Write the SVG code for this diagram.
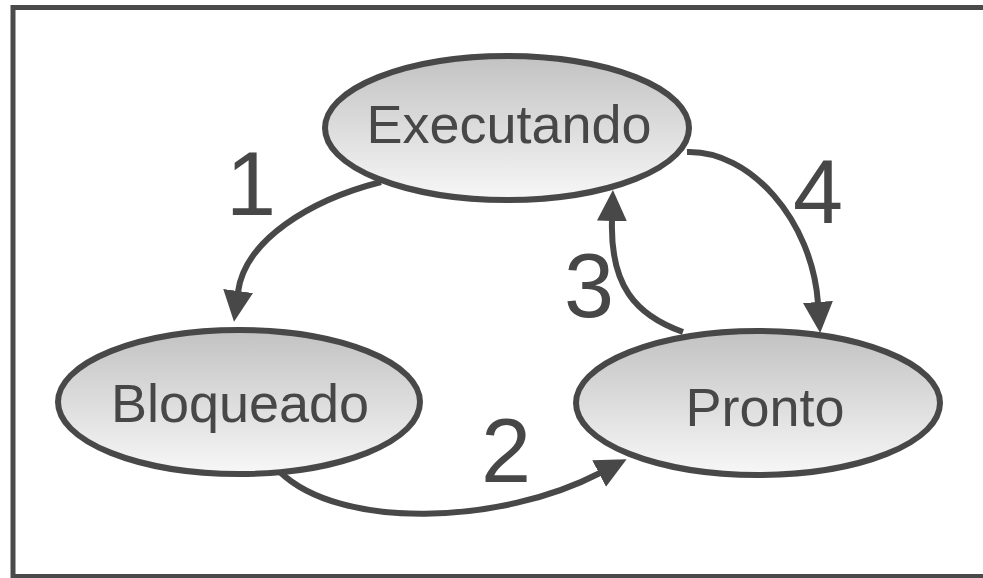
<svg xmlns="http://www.w3.org/2000/svg" width="983" height="578" viewBox="0 0 983 578">
<style>
.node{stroke:#484848;stroke-width:6;fill:url(#g)}
.lbl{font-family:"Liberation Sans",Arial,sans-serif;font-size:54px;fill:#474747;text-anchor:middle}
.num{font-family:"Liberation Sans",Arial,sans-serif;font-size:90px;fill:#474747;text-anchor:middle}
.edge{fill:none;stroke:#484848;stroke-width:6;marker-end:url(#ah)}
</style>
<defs>
<linearGradient id="g" x1="0" y1="0" x2="0" y2="1">
<stop offset="0" stop-color="#c2c2c2"/>
<stop offset="1" stop-color="#f7f7f7"/>
</linearGradient>
<marker id="ah" markerUnits="userSpaceOnUse" markerWidth="32" markerHeight="32" refX="1" refY="15" orient="auto" viewBox="0 0 32 30">
<path d="M0,0 L31,15 L0,30 z" fill="#484848"/>
</marker>
</defs>
<rect x="13" y="7.5" width="1000" height="569" fill="#fff" stroke="#4a4a4a" stroke-width="5"/>
<g id="connectors">
<path class="edge" d="M381,182 C310,200 245,240 238,292"/>
<path class="edge" d="M280,472 C340,530 500,525 600,473"/>
<path class="edge" d="M683,332 C635,315 610,285 612,220"/>
<path class="edge" d="M687,152 C750,150 812,220 818,303"/>
<text class="num" x="251" y="215">1</text>
<text class="num" x="506" y="482">2</text>
<text class="num" x="589" y="317">3</text>
<text class="num" x="818" y="223">4</text>
</g>
<g id="executando">
<ellipse class="node" cx="507" cy="128" rx="182" ry="72"/>
<text class="lbl" x="509" y="143">Executando</text>
</g>
<g id="bloqueado">
<ellipse class="node" cx="239" cy="402" rx="181" ry="72"/>
<text class="lbl" x="240" y="422">Bloqueado</text>
</g>
<g id="pronto">
<ellipse class="node" cx="758" cy="403" rx="182" ry="72"/>
<text class="lbl" x="765" y="426">Pronto</text>
</g>
</svg>
